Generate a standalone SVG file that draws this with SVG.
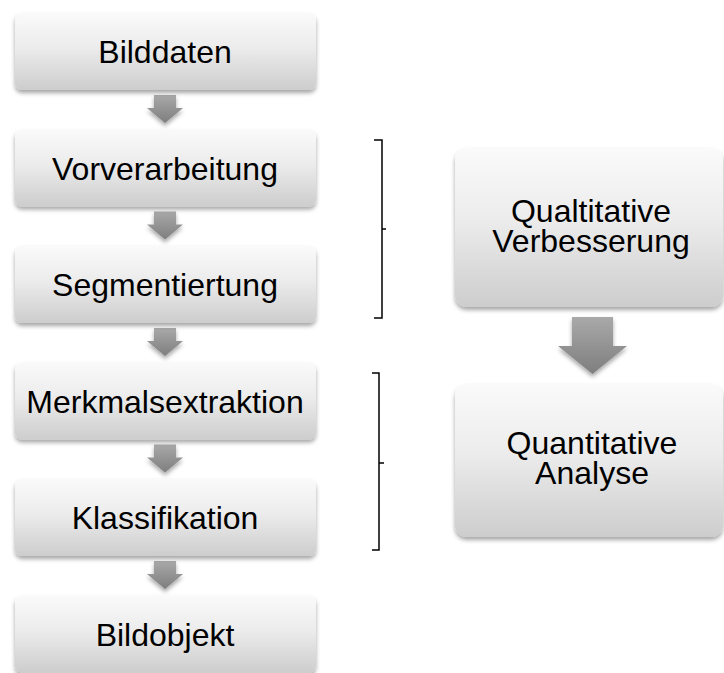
<svg xmlns="http://www.w3.org/2000/svg" width="724" height="673" viewBox="0 0 724 673">
<defs>
<linearGradient id="boxg" x1="0" y1="0" x2="0" y2="1">
<stop offset="0" stop-color="#fafafa"/>
<stop offset="0.45" stop-color="#ececec"/>
<stop offset="1" stop-color="#cdcdcd"/>
</linearGradient>
<linearGradient id="arrg" x1="0" y1="0" x2="0" y2="1">
<stop offset="0" stop-color="#a9a9a9"/>
<stop offset="1" stop-color="#7e7e7e"/>
</linearGradient>
<filter id="sh" x="-10%" y="-10%" width="120%" height="130%">
<feDropShadow dx="0" dy="3" stdDeviation="2.2" flood-color="#000" flood-opacity="0.35"/>
</filter>
</defs>
<style>
.box{fill:url(#boxg);filter:url(#sh)}
.arr{fill:url(#arrg);filter:url(#sh)}
.t{font-family:"Liberation Sans",Arial,sans-serif;font-size:32px;fill:#000;text-anchor:middle}
.br{fill:none;stroke:#000;stroke-width:1.5}
</style>
<rect x="0" y="0" width="724" height="673" fill="#fff"/>
<g id="connectors">
<polygon class="arr" points="154,95 176,95 176,108 183,108 165,123 147,108 154,108"/>
<polygon class="arr" points="154,211.5 176,211.5 176,224.5 183,224.5 165,239.5 147,224.5 154,224.5"/>
<polygon class="arr" points="154,328 176,328 176,341 183,341 165,356 147,341 154,341"/>
<polygon class="arr" points="154,444.5 176,444.5 176,457.5 183,457.5 165,472.5 147,457.5 154,457.5"/>
<polygon class="arr" points="154,561 176,561 176,574 183,574 165,589 147,574 154,574"/>
<polygon class="arr" points="572,317 613,317 613,346 627,346 592.5,374 558,346 572,346"/>
</g>
<g id="bracket1"><path class="br" d="M374,140 H382 V318 H374 M382,229 H386"/></g>
<g id="bracket2"><path class="br" d="M372,373 H379 V550 H372 M379,463 H384"/></g>
<g id="n1"><rect class="box" x="15" y="13" width="301" height="77" rx="7"/><text class="t" x="165" y="63">Bilddaten</text></g>
<g id="n2"><rect class="box" x="15" y="129.5" width="301" height="77" rx="7"/><text class="t" x="165" y="179.5">Vorverarbeitung</text></g>
<g id="n3"><rect class="box" x="15" y="246" width="301" height="77" rx="7"/><text class="t" x="165" y="296">Segmentiertung</text></g>
<g id="n4"><rect class="box" x="15" y="362.5" width="301" height="77" rx="7"/><text class="t" x="165" y="412.5">Merkmalsextraktion</text></g>
<g id="n5"><rect class="box" x="15" y="479" width="301" height="77" rx="7"/><text class="t" x="165" y="529">Klassifikation</text></g>
<g id="n6"><rect class="box" x="15" y="595.5" width="301" height="77" rx="7"/><text class="t" x="165" y="645.5">Bildobjekt</text></g>
<g id="n7"><rect class="box" x="455" y="148" width="268" height="159" rx="12"/><text class="t" x="591" y="222">Qualtitative</text><text class="t" x="591" y="252">Verbesserung</text></g>
<g id="n8"><rect class="box" x="455" y="384" width="268" height="153" rx="12"/><text class="t" x="592" y="454">Quantitative</text><text class="t" x="592" y="484">Analyse</text></g>
</svg>
